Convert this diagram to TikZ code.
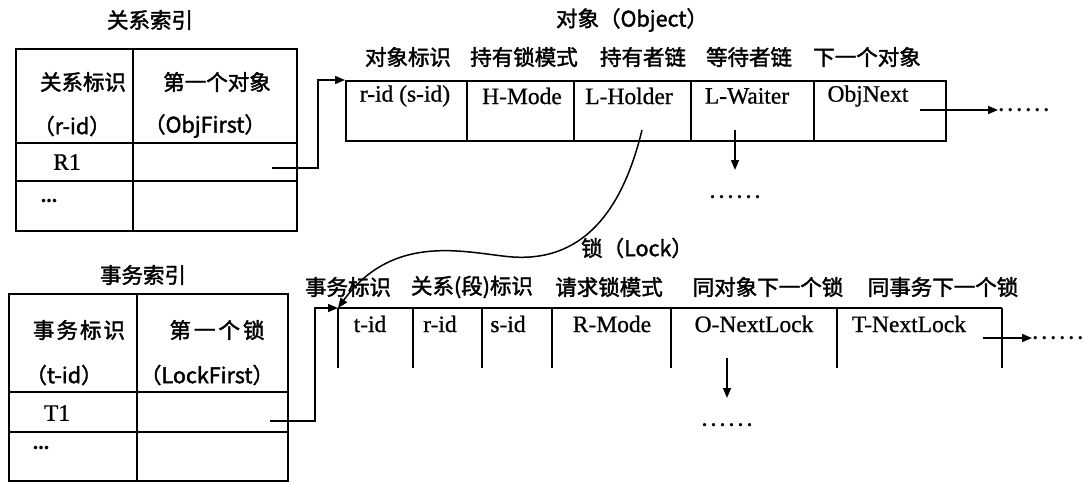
\documentclass[tikz,border=0pt]{standalone}
\usepackage{fontspec}
\setmainfont{Liberation Serif}
\newfontfamily\cjk{Noto Sans CJK SC}[FakeBold=1.8]
\usetikzlibrary{arrows.meta}
\begin{document}
\begin{tikzpicture}[x=1pt,y=-1pt,line width=1.5pt,
  cn/.style={font=\cjk\fontsize{21.5}{23}\selectfont,inner sep=0pt},
  lt/.style={font=\fontsize{23.5}{25}\selectfont\addfontfeature{FakeBold=0.8},inner sep=0pt},
  dots/.style={font=\fontsize{20}{22}\selectfont\bfseries\addfontfeature{LetterSpace=20},inner sep=0pt},
  arr/.style={-{Triangle[length=10pt,width=8pt]}},
  box/.style={draw,inner sep=0pt,anchor=north west}]
\useasboundingbox (0,0) rectangle (1085,483);

% ---------- relation index ----------
\node[cn] (rtitle) at (150,20) {关系索引};
\node[box,minimum width=281,minimum height=182] (rtab) at (15,48) {};
\draw (133,48) -- (133,230);
\draw (15,143) -- (296,143);
\draw (15,181) -- (296,181);
\node[cn] (rh1) at (83,82) {关系标识};
\node[cn] (rh2) at (72,126) {（r-id）};
\node[cn] (rh3) at (217,82) {第一个对象};
\node[cn] (rh4) at (205,126) {（ObjFirst）};
\node[lt] (r1) at (67,162) {R1};
\node[lt,font=\fontsize{22}{24}\selectfont\bfseries] (rdots) at (49,201) {...};
\coordinate (r1p) at (272,168);

% ---------- object ----------
\node[cn] (otitle) at (632,20) {对象（Object）};
\node[cn] (oh1) at (408,57) {对象标识};
\node[cn] (oh2) at (524,57) {持有锁模式};
\node[cn] (oh3) at (643,57) {持有者链};
\node[cn] (oh4) at (749,57) {等待者链};
\node[cn] (oh5) at (867,57) {下一个对象};
\node[box,minimum width=600,minimum height=60] (obj) at (345,80) {};
\foreach \x in {467,574,691,814} \draw (\x,80) -- (\x,140);
\node[lt] (c1) at (405,96) {r-id (s-id)};
\node[lt] (c2) at (522,96) {H-Mode};
\node[lt] (c3) at (629,96) {L-Holder};
\node[lt] (c4) at (747,96) {L-Waiter};
\node[lt] (c5) at (868,96) {ObjNext};
\coordinate (onext) at (920,110);
\coordinate (owait) at (735,130);
\coordinate (ohold) at (642,130);
\node[dots,anchor=west] (od1) at (998,110) {......};
\node[dots] (od2) at (735,197) {......};
\draw[arr] (onext) -- (od1.west);
\draw[arr] (owait) -- ++(0,40);

\draw[arr] (r1p) -- ++(46,0) |- (obj.north west);

% ---------- transaction index ----------
\node[cn] (ttitle) at (143,275) {事务索引};
\node[box,minimum width=279,minimum height=187] (ttab) at (8,293) {};
\draw (137,293) -- (137,480);
\draw (8,392) -- (287,392);
\draw (8,432) -- (287,432);
\node[cn] (th1) at (79,330) {事\hspace{2pt}务\hspace{2pt}标\hspace{2pt}识};
\node[cn] (th2) at (64,375) {（t-id）};
\node[cn] (th3) at (217,330) {第\hspace{3pt}一\hspace{3pt}个\hspace{3pt}锁};
\node[cn] (th4) at (207,375) {（LockFirst）};
\node[lt] (t1) at (57,413) {T1};
\node[lt,font=\fontsize{22}{24}\selectfont\bfseries] (tdots) at (41,448) {...};
\coordinate (t1p) at (270,421);

% ---------- lock ----------
\node[cn] (ltitle) at (637,248) {锁（Lock）};
\node[cn] (lh1) at (348,287) {事务标识};
\node[cn] (lh2) at (472,287) {关系(段)标识};
\node[cn] (lh3) at (609,287) {请求锁模式};
\node[cn] (lh4) at (768,287) {同对象下一个锁};
\node[cn] (lh5) at (943,287) {同事务下一个锁};
\coordinate (lock) at (338,308);
\draw (lock) -- (1002,308);
\foreach \x in {338,413,482,552,671,837,1002} \draw (\x,308) -- (\x,368);
\node[lt] (k1) at (370,324) {t-id};
\node[lt] (k2) at (440,324) {r-id};
\node[lt] (k3) at (508,324) {s-id};
\node[lt] (k4) at (612,324) {R-Mode};
\node[lt] (k5) at (754,324) {O-NextLock};
\node[lt] (k6) at (909,324) {T-NextLock};
\coordinate (lnext) at (983,338);
\coordinate (lobj) at (727,358);
\node[dots,anchor=west] (ld1) at (1032,338) {......};
\node[dots] (ld2) at (727,425) {......};
\draw[arr] (lnext) -- (ld1.west);
\draw[arr] (lobj) -- ++(0,40);

\draw[arr] (t1p) -- ++(45,0) |- (lock);

% holder curve
\draw[arr] (ohold) .. controls (625,200) and (590,262) .. (513,257)
   .. controls (470,254) and (395,230) .. (lock);
\end{tikzpicture}
\end{document}
